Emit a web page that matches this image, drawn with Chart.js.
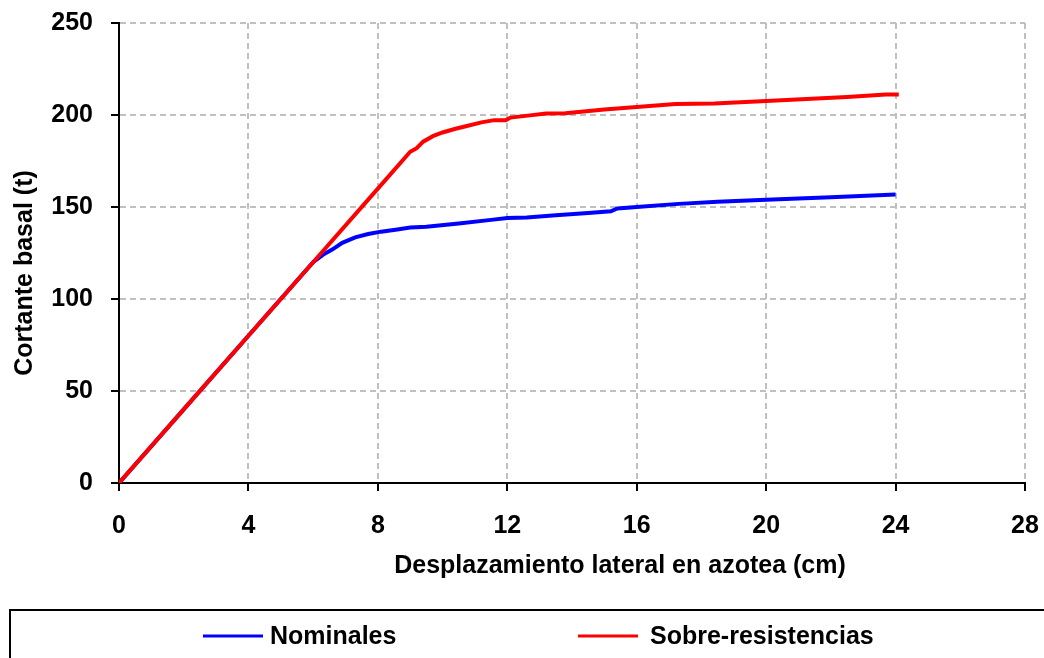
<!DOCTYPE html>
<html>
<head>
<meta charset="utf-8">
<script src="https://cdn.jsdelivr.net/npm/chart.js@4/dist/chart.umd.min.js"></script>
<style>
  html, body { margin: 0; padding: 0; background: #fff; }
  #wrap { width: 1044px; height: 658px; }
</style>
</head>
<body>
<div id="wrap"><canvas id="grafica" width="1044" height="658"></canvas></div>
<script>
// datos
let xNominales = [0, 2, 4, 6, 6.3, 6.6, 6.9, 7.3, 7.7, 8.1, 8.6, 9.0, 9.5, 10.5, 11.5, 12.0, 12.6, 13.5, 14.5, 15.2, 15.4, 16.0, 17.3, 18.5, 20.0, 22.0, 24.0];
let yNominales = [0, 40, 80, 120, 124, 127, 130.5, 133.5, 135.3, 136.6, 137.8, 138.8, 139.3, 141, 143, 144, 144.3, 145.5, 146.8, 147.7, 149.2, 150, 151.7, 152.8, 154, 155.3, 156.8];

let xSobre = [0, 2, 4, 6, 8, 9.0, 9.2, 9.4, 9.7, 10.0, 10.4, 10.75, 11.2, 11.6, 11.95, 12.1, 12.7, 13.2, 13.8, 15.0, 16.0, 17.2, 18.4, 20.0, 22.5, 23.7, 24.1];
let ySobre = [0, 40, 80, 120, 160, 180, 182, 185.5, 188.5, 190.5, 192.5, 194, 196, 197.2, 197.2, 198.6, 199.8, 200.8, 201, 203, 204.4, 206, 206.3, 207.6, 209.8, 211.2, 211.2];

let ticksX = [0, 4, 8, 12, 16, 20, 24, 28];
let ticksY = [0, 50, 100, 150, 200, 250];

let tituloX = "Desplazamiento lateral en azotea (cm)";
let tituloY = "Cortante basal (t)";

const fuente = "'Liberation Sans', Arial, sans-serif";

function puntos(xs, ys) {
    return xs.map((x, i) => ({ x: x, y: ys[i] }));
}

// titulos y leyenda en recuadro dibujados a mano
const extras = {
    id: "extras",
    afterDraw(chart) {
        const ctx = chart.ctx;
        ctx.save();
        ctx.font = "bold 25px " + fuente;
        ctx.fillStyle = "#000";
        ctx.textAlign = "center";
        ctx.textBaseline = "middle";
        ctx.fillText(tituloX, 620, 566);
        ctx.translate(25, 273);
        ctx.rotate(-Math.PI / 2);
        ctx.fillText(tituloY, 0, 0);
        ctx.restore();

        ctx.save();
        ctx.strokeStyle = "#000";
        ctx.lineWidth = 2;
        ctx.strokeRect(10, 610, 1040, 60);
        ctx.font = "bold 25px " + fuente;
        ctx.textBaseline = "middle";
        ctx.fillStyle = "#000";
        const pos = [{ l: 203, t: 270 }, { l: 578, t: 650 }];
        chart.data.datasets.forEach((ds, i) => {
            ctx.strokeStyle = ds.borderColor;
            ctx.lineWidth = 3;
            ctx.beginPath();
            ctx.moveTo(pos[i].l, 636);
            ctx.lineTo(pos[i].l + 60, 636);
            ctx.stroke();
            ctx.fillText(ds.label, pos[i].t, 637);
        });
        ctx.restore();
    }
};

const rejilla = {
    color: "#c0c0c0",
    lineWidth: 2,
    tickColor: "#000",
    tickBorderDash: [],
    tickLength: 8,
    tickWidth: 2
};
const borde = { color: "#000", width: 2, dash: [6, 4] };

const config = {
    type: "line",
    data: {
        datasets: [{
            label: "Nominales",
            data: puntos(xNominales, yNominales),
            borderColor: "#0000ff",
            borderWidth: 4,
            pointRadius: 0,
            tension: 0,
            order: 1
        }, {
            label: "Sobre-resistencias",
            data: puntos(xSobre, ySobre),
            borderColor: "#ff0000",
            borderWidth: 4,
            pointRadius: 0,
            tension: 0,
            order: 0
        }]
    },
    options: {
        responsive: false,
        animation: false,
        layout: { padding: { left: 0, right: 19, top: 23, bottom: 73 } },
        plugins: {
            legend: { display: false },
            tooltip: { enabled: false }
        },
        scales: {
            x: {
                type: "linear",
                min: 0,
                max: 28,
                afterBuildTicks: (scale) => { scale.ticks = ticksX.map(v => ({ value: v })); },
                afterFit: (scale) => {
                    scale.height = 102;
                    scale.paddingLeft = 0;
                    scale.paddingRight = 0;
                },
                border: borde,
                grid: rejilla,
                ticks: {
                    color: "#000",
                    padding: 20,
                    maxRotation: 0,
                    font: { family: fuente, size: 25, weight: "bold" }
                }
            },
            y: {
                type: "linear",
                min: 0,
                max: 250,
                afterBuildTicks: (scale) => { scale.ticks = ticksY.map(v => ({ value: v })); },
                afterFit: (scale) => {
                    scale.width = 119;
                    scale.paddingTop = 0;
                    scale.paddingBottom = 0;
                },
                border: borde,
                grid: rejilla,
                ticks: {
                    color: "#000",
                    padding: 18,
                    font: { family: fuente, size: 25, weight: "bold" }
                }
            }
        }
    },
    plugins: [extras]
};

window.onload = () => {
    const miGrafica = new Chart("grafica", config);
};
</script>
</body>
</html>
